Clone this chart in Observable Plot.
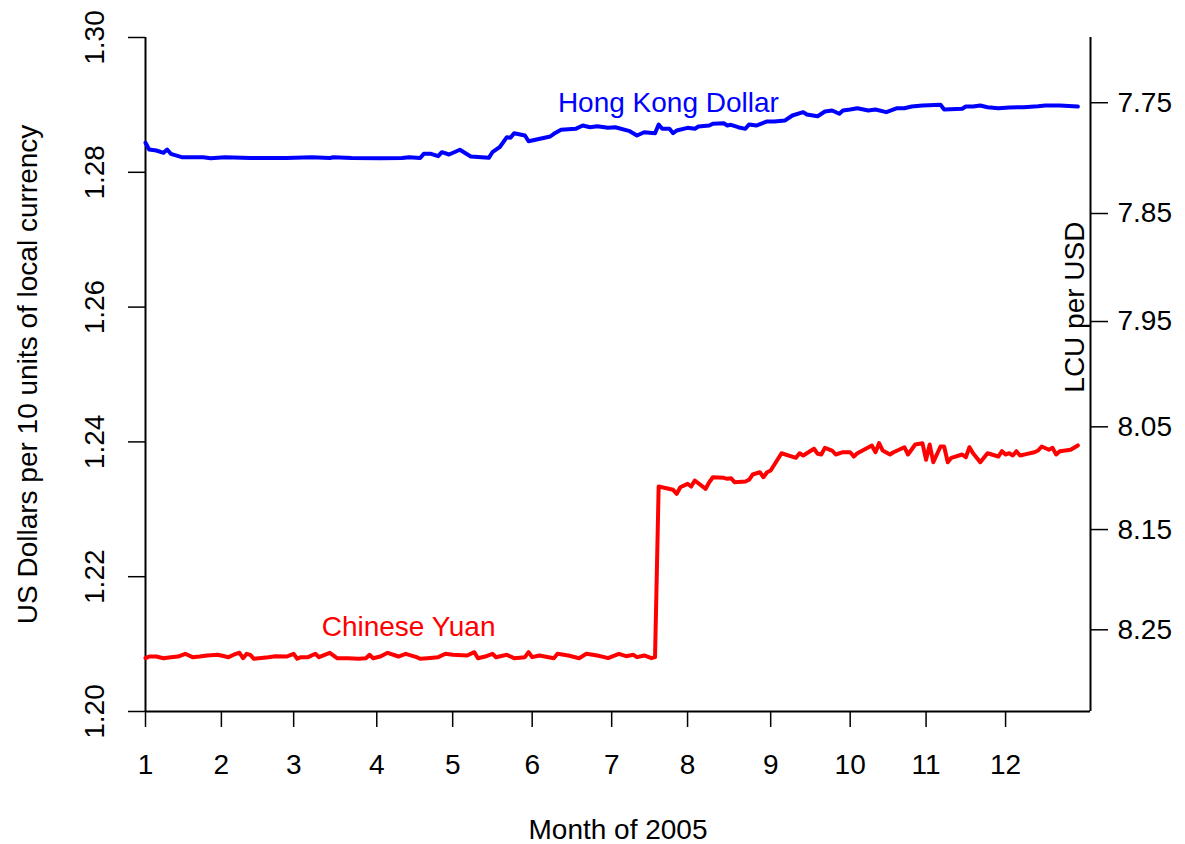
<!DOCTYPE html>
<html>
<head>
<meta charset="utf-8">
<script src="https://cdn.jsdelivr.net/npm/d3@7"></script>
<script src="https://cdn.jsdelivr.net/npm/@observablehq/plot@0.6"></script>
<style>
  html, body { margin: 0; padding: 0; background: #fff; }
</style>
</head>
<body>
<div id="chart"></div>
<script>
// Trading day of 2005 (x) and US dollars per 10 units of local currency (y)
const hkdDays = [
  1,2,4,6,7,8,11,17,19,23,
  30,40,47,52,53,58,66,72,74,77,
  78,80,82,83,85,88,91,96,97,99,
  101,102,103,106,107,113,114,116,120,122,
  124,126,129,131,135,137,139,142,143,144,
  146,147,148,151,153,154,157,158,161,162,
  163,165,167,168,170,173,175,178,180,183,
  184,187,189,191,193,194,196,198,201,203,
  206,209,211,213,216,221,222,227,228,230,
  232,234,237,240,244,248,250,254,259
];
const hkdValues = [
  1.28438,1.28338,1.28323,1.28289,1.28338,1.28274,1.28224,1.28224,1.28209,1.28224,
  1.28212,1.28212,1.28224,1.28212,1.28224,1.28212,1.28208,1.28212,1.28224,1.28212,
  1.28274,1.28274,1.28239,1.28298,1.28264,1.28334,1.28234,1.28215,1.28298,1.28372,
  1.28521,1.28512,1.28580,1.28546,1.28461,1.28531,1.28571,1.28631,1.28645,1.28694,
  1.28669,1.28684,1.28660,1.28669,1.28610,1.28546,1.28595,1.28580,1.28709,1.28645,
  1.28645,1.28580,1.28620,1.28660,1.28645,1.28680,1.28694,1.28720,1.28728,1.28694,
  1.28705,1.28669,1.28645,1.28709,1.28694,1.28754,1.28754,1.28769,1.28843,1.28892,
  1.28858,1.28832,1.28902,1.28917,1.28868,1.28917,1.28932,1.28951,1.28917,1.28932,
  1.28892,1.28951,1.28951,1.28976,1.28991,1.29002,1.28932,1.28942,1.28976,1.28976,
  1.28991,1.28966,1.28951,1.28961,1.28966,1.28981,1.28991,1.28991,1.28976
];
const cnyDays = [
  1,2,4,6,8,10,12,14,16,18,
  21,24,26,27,28,29,30,31,35,37,
  40,42,43,44,46,48,49,52,54,57,
  60,62,63,64,66,68,71,73,76,77,
  79,82,84,86,90,92,93,95,97,98,
  101,103,106,107,108,110,114,115,118,121,
  123,126,128,129,132,134,136,137,139,141,
  142,143,147,148,149,151,152,153,156,157,
  158,161,162,163,164,167,168,169,171,172,
  173,174,177,181,182,183,186,187,188,189,
  191,192,194,196,197,198,202,203,204,205,
  207,208,211,212,214,216,217,218,219,221,
  222,223,224,227,228,229,230,232,234,237,
  238,239,240,241,242,243,245,247,248,249,
  251,252,253,254,257,259
];
const cnyValues = [
  1.20791,1.20816,1.20816,1.20791,1.20806,1.20816,1.20856,1.20806,1.20816,1.20831,
  1.20841,1.20806,1.20856,1.20871,1.20791,1.20856,1.20841,1.20782,1.20806,1.20821,
  1.20816,1.20856,1.20782,1.20806,1.20806,1.20856,1.20806,1.20871,1.20791,1.20791,
  1.20782,1.20791,1.20841,1.20791,1.20816,1.20871,1.20816,1.20856,1.20806,1.20782,
  1.20791,1.20806,1.20856,1.20841,1.20831,1.20880,1.20791,1.20816,1.20856,1.20806,
  1.20841,1.20791,1.20806,1.20880,1.20806,1.20831,1.20791,1.20856,1.20831,1.20791,
  1.20856,1.20831,1.20806,1.20791,1.20856,1.20821,1.20841,1.20806,1.20831,1.20791,
  1.20806,1.23338,1.23289,1.23230,1.23328,1.23378,1.23338,1.23427,1.23304,1.23402,
  1.23476,1.23467,1.23452,1.23462,1.23402,1.23412,1.23438,1.23516,1.23550,1.23476,
  1.23550,1.23576,1.23832,1.23764,1.23832,1.23798,1.23898,1.23823,1.23813,1.23912,
  1.23872,1.23813,1.23847,1.23847,1.23783,1.23832,1.23947,1.23847,1.23981,1.23872,
  1.23813,1.23847,1.23921,1.23813,1.23961,1.23981,1.23734,1.23961,1.23699,1.23932,
  1.23932,1.23699,1.23764,1.23813,1.23773,1.23921,1.23832,1.23699,1.23832,1.23783,
  1.23862,1.23813,1.23832,1.23798,1.23862,1.23798,1.23823,1.23847,1.23872,1.23932,
  1.23883,1.23912,1.23813,1.23862,1.23883,1.23947
];

// Axis ticks
const monthStartDays = [1,22,42,65,86,108,130,151,174,196,217,239];
const monthLabels = ["1","2","3","4","5","6","7","8","9","10","11","12"];
const usdTicks = [1.20,1.22,1.24,1.26,1.28,1.30];
const lcuTicks = [7.75,7.85,7.95,8.05,8.15,8.25];

// Series labels
const seriesNames = ["Hong Kong Dollar","Chinese Yuan"];
const seriesColors = ["#0000ff","#ff0000"];
const labelDays = [145.7, 73.8];
const labelValues = [1.2903, 1.2125];

const xMax = 262.5;

const hkd = hkdDays.map((d,i) => ({day: d, value: hkdValues[i]}));
const cny = cnyDays.map((d,i) => ({day: d, value: cnyValues[i]}));
const labels = seriesNames.map((n,i) => ({name: n, color: seriesColors[i], day: labelDays[i], value: labelValues[i]}));

const chart = Plot.plot({
  width: 1185,
  height: 844,
  marginLeft: 145,
  marginRight: 95,
  marginTop: 37,
  marginBottom: 133,
  style: {fontFamily: "'Liberation Sans', Arial, Helvetica, sans-serif", fontSize: "28px", color: "#000", background: "#fff", overflow: "visible"},
  x: {domain: [1, xMax]},
  y: {domain: [1.20, 1.30]},
  marks: [
    Plot.ruleX([1], {strokeWidth: 2}),
    Plot.ruleX([xMax], {strokeWidth: 2}),
    Plot.ruleY([1.20], {strokeWidth: 2}),
    Plot.axisX({ticks: monthStartDays, tickFormat: d => monthLabels[monthStartDays.indexOf(d)], tickSize: 16, tickPadding: 27, strokeWidth: 1.5, label: null}),
    Plot.axisY({anchor: "left", ticks: usdTicks, tickSize: 17, tickFormat: () => "", strokeWidth: 1.5, label: null}),
    Plot.text(usdTicks, {y: d => d, frameAnchor: "left", dx: -50, rotate: -90, textAnchor: "middle", text: d => d.toFixed(2), fill: "#000"}),
    Plot.axisY({anchor: "right", ticks: lcuTicks.map(v => 10 / v), tickSize: 17, tickPadding: 10, tickFormat: d => (10 / d).toFixed(2), strokeWidth: 1.5, label: null}),
    Plot.text(["US Dollars per 10 units of local currency"], {frameAnchor: "left", dx: -117, rotate: -90, textAnchor: "middle", text: d => d, fill: "#000"}),
    Plot.text(["LCU per USD"], {y: [1.26], frameAnchor: "right", dx: -15, rotate: -90, textAnchor: "middle", text: d => d, fill: "#000"}),
    Plot.text(["Month of 2005"], {frameAnchor: "bottom", dy: 127, text: d => d, fill: "#000"}),
    Plot.line(hkd, {x: "day", y: "value", stroke: seriesColors[0], strokeWidth: 4}),
    Plot.line(cny, {x: "day", y: "value", stroke: seriesColors[1], strokeWidth: 4}),
    Plot.text(labels, {x: "day", y: "value", text: "name", fill: "color"})
  ]
});
document.getElementById("chart").appendChild(chart);
</script>
</body>
</html>
